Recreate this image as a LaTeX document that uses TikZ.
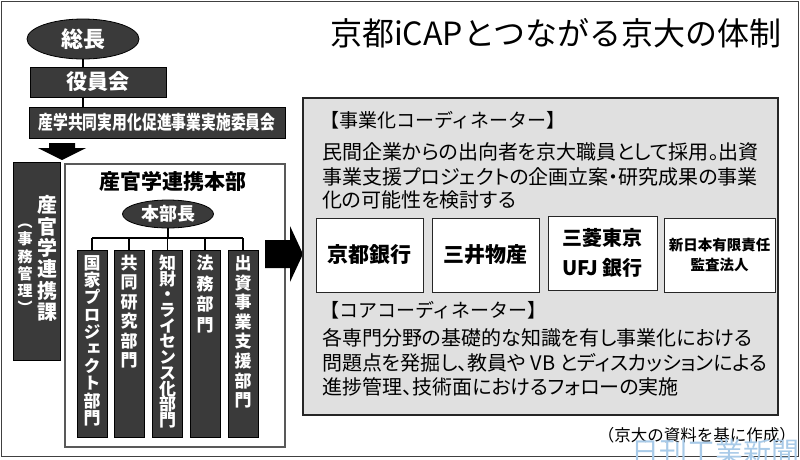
\documentclass[tikz,border=0pt]{standalone}
\usepackage{fontspec}
\usepackage{graphicx}
\setmainfont{Noto Sans CJK JP}
\newfontfamily\jpv[RawFeature=+vert]{Noto Sans CJK JP}
\newfontfamily\jpp[RawFeature=+palt]{Noto Sans CJK JP}
\usetikzlibrary{shapes.geometric}
\definecolor{darkfill}{RGB}{58,58,58}
\definecolor{lightbg}{RGB}{224,224,224}
\definecolor{wmark}{RGB}{168,202,232}
\newcommand\vtext[6]{%
  \foreach \ch [count=\i] in {#6}
    \node[anchor=base, inner sep=0, text=white, font=\jpv\bfseries\fontsize{#5}{#5}\selectfont]
      (#1-\i) at (#2,{#3+(\i-1)*#4+0.38*#5}) {\ch};}
\begin{document}
\begin{tikzpicture}[x=1pt,y=-1pt,
  darkbox/.style={draw=black, fill=darkfill, text=white, inner sep=0, line width=0.8pt},
  darkell/.style={ellipse, draw=black, fill=darkfill, text=white, inner sep=0, line width=0.8pt},
  conn/.style={draw=black, line width=1.4pt},
  cobox/.style={draw=black!85, fill=white, line width=1pt, inner sep=0, align=center},
  body/.style={anchor=base west, inner sep=0, font=\jpp\fontsize{20}{20}\selectfont},
  head/.style={anchor=base west, inner sep=0, font=\fontsize{19}{19}\selectfont},
  blackarrow/.style={fill=black}]
\useasboundingbox (0,0) rectangle (800,459);
\fill[white] (0,0) rectangle (800,459);
\draw[black!75, line width=1pt] (1.5,1.5) rectangle (798.5,456.5);

% ---- left top chain
\node[darkell, minimum width=112, minimum height=40, font=\bfseries\fontsize{22}{22}\selectfont] (sochou) at (83,39) {総長};
\node[darkbox, minimum width=136, minimum height=30, font=\bfseries\fontsize{21}{21}\selectfont] (yakuin) at (98,82) {役員会};
\node[darkbox, minimum width=256, minimum height=31, font=\bfseries\fontsize{19}{19}\selectfont] (iinkai) at (157,122.5) {\scalebox{0.78}[1]{産学共同実用化促進事業実施委員会}};
\draw[conn] (sochou.south) -- (sochou.south |- yakuin.north);
\draw[conn] (sochou.south |- yakuin.south) -- (sochou.south |- iinkai.north);

% ---- down arrow
\coordinate (dtip) at (62,160);
\fill[blackarrow] (49,143) -- (75,143) -- (75,148) -- (86,148) -- (dtip) -- (38,148) -- (49,148) -- cycle;

% ---- kacho
\node[darkbox, minimum width=47, minimum height=198] (kacho) at (36.5,261) {};
\vtext{kA}{47}{205}{21.4}{20}{産,官,学,連,携,課}
\vtext{kB}{25}{222}{17.2}{15}{（,事,務,管,理,）}

% ---- honbu
\node[draw=black!65, fill=white, line width=1.2pt, minimum width=220, minimum height=283, inner sep=0] (honbu) at (175,305.5) {};
\node[font=\bfseries\fontsize{21}{21}\selectfont, inner sep=0] (honbuT) at (173,181) {産官学連携本部};
\node[darkell, minimum width=91, minimum height=28, font=\bfseries\fontsize{18}{18}\selectfont] (bucho) at (168,214) {本部長};

\foreach \n/\x in {d1/92, d2/129, d3/167.5, d4/205, d5/243}
  \node[darkbox, minimum width=30, minimum height=187] (\n) at (\x,343.5) {};
\coordinate (bar) at (168,238);
\draw[conn] (bucho.south) -- (bar);
\draw[conn] (d1.north |- bar) -- (d5.north |- bar);
\foreach \n in {d1,d2,d3,d4,d5} \draw[conn] (\n.north |- bar) -- (\n.north);

\vtext{t1}{92}{263}{17.2}{17}{国,家,プ,ロ,ジ,ェ,ク,ト,部,門}
\vtext{t2}{129}{263}{19.4}{17}{共,同,研,究,部,門}
\vtext{t3}{167.5}{263}{15.7}{17}{知,財,・,ラ,イ,セ,ン,ス,化,部,門}
\vtext{t4}{205}{263}{20.7}{17}{法,務,部,門}
\vtext{t5}{243}{263}{19.6}{17}{出,資,事,業,支,援,部,門}

% ---- right arrow
\coordinate (rtip) at (303,254);
\fill[blackarrow] (265,240) -- (290,240) -- (290,226) -- (rtip) -- (290,282) -- (290,268) -- (265,268) -- cycle;

% ---- title
\node[inner sep=0, font=\fontsize{32}{32}\selectfont] (title) at (556,33) {京都iCAPとつながる京大の体制};

% ---- gray box
\node[draw=black!85, fill=lightbg, line width=1.3pt, minimum width=475, minimum height=317, inner sep=0] (gbox) at (540.5,256.5) {};
\node[head] (h1) at (320,127) {【事業化コーディネーター】};
\node[body] (l1) at (322,159) {民間企業からの出向者を京大職員として採用。出資};
\node[body] (l2) at (322,184) {事業支援プロジェクトの企画立案・研究成果の事業};
\node[body] (l3) at (322,207.5) {化の可能性を検討する};

\node[cobox, minimum width=107, minimum height=74, font=\bfseries\fontsize{21}{21}\selectfont] (c1) at (369.5,255) {京都銀行};
\node[cobox, minimum width=107, minimum height=74, font=\bfseries\fontsize{21}{21}\selectfont] (c2) at (485.5,255) {三井物産};
\node[cobox, minimum width=109, minimum height=74, font=\bfseries\fontsize{20}{30}\selectfont] (c3) at (602.5,253) {三菱東京\\UFJ 銀行};
\node[cobox, minimum width=111, minimum height=74, font=\bfseries\fontsize{14.5}{20}\selectfont] (c4) at (719.5,255) {新日本有限責任\\監査法人};

\node[head] (h2) at (320,317) {【コアコーディネーター】};
\node[body] (m1) at (322,345) {各専門分野の基礎的な知識を有し事業化における};
\node[body] (m2) at (322,370) {問題点を発掘し、教員や VB とディスカッションによる};
\node[body] (m3) at (322,394) {進捗管理、技術面におけるフォローの実施};

% ---- source and watermark
\node[anchor=east, inner sep=0, font=\fontsize{16.5}{17}\selectfont] (src) at (796,435) {（京大の資料を基に作成）};
\node[anchor=north east, inner sep=0, text=wmark, font=\fontsize{28}{28}\selectfont] (wm) at (800,439) {日刊工業新聞};
\end{tikzpicture}
\end{document}
